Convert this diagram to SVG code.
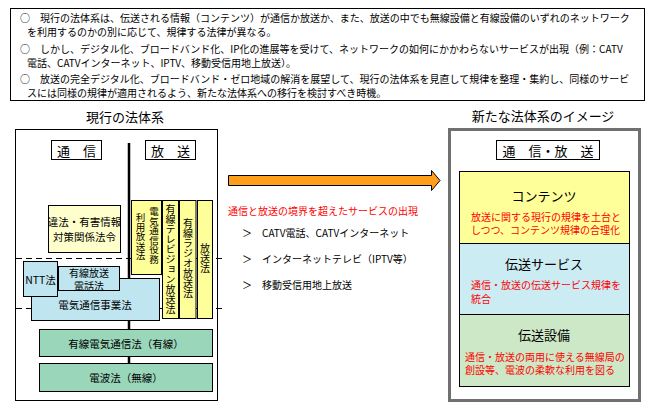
<svg xmlns="http://www.w3.org/2000/svg" width="655" height="412" viewBox="0 0 655 412">
<style>
text{font-family:"Noto Sans CJK JP","Noto Sans CJK SC",sans-serif;fill:#000;}
.b{font-size:10px;dominant-baseline:central;}
.t{font-size:13px;dominant-baseline:central;text-anchor:middle;}
.m{font-size:10.5px;dominant-baseline:central;text-anchor:middle;}
.s{font-size:10px;dominant-baseline:central;text-anchor:middle;}
.r{font-size:10px;dominant-baseline:central;fill:#f00;}
.v{font-size:10px;writing-mode:vertical-rl;text-anchor:start;}
.v2{font-size:9.5px;writing-mode:vertical-rl;text-anchor:start;}
.box{stroke:#000;stroke-width:1;}
.y{fill:#ffff99;}
.ly{fill:#ffffcc;}
.bl{fill:#bfe6f0;}
.gr{fill:#99d6ba;}
.lbl{fill:#fff;stroke:#000;stroke-width:1;}
.dash{stroke:#000;stroke-width:1;stroke-dasharray:6,4;fill:none;}
</style>
<rect x="0" y="0" width="655" height="412" fill="#fff"/>

<g id="summary">
<rect x="10.5" y="8.5" width="634" height="92" fill="#fff" stroke="#000"/>
<text class="b" x="20" y="17.5">○　現行の法体系は、伝送される情報（コンテンツ）が通信か放送か、また、放送の中でも無線設備と有線設備のいずれのネットワーク</text>
<text class="b" x="27" y="31.5">を利用するのかの別に応じて、規律する法律が異なる。</text>
<text class="b" x="20" y="48.5">○　しかし、デジタル化、ブロードバンド化、IP化の進展等を受けて、ネットワークの如何にかかわらないサービスが出現（例：CATV</text>
<text class="b" x="27" y="62.5">電話、CATVインターネット、IPTV、移動受信用地上放送）。</text>
<text class="b" x="20" y="78.5">○　放送の完全デジタル化、ブロードバンド・ゼロ地域の解消を展望して、現行の法体系を見直して規律を整理・集約し、同様のサービ</text>
<text class="b" x="27" y="92.5">スには同様の規律が適用されるよう、新たな法体系への移行を検討すべき時機。</text>
</g>

<g id="current-system">
<text class="t" x="125" y="116">現行の法体系</text>
<rect x="15.5" y="129.5" width="202" height="271" fill="#fff" stroke="#000"/>
</g>

<g id="separators">
<line class="dash" x1="16" y1="258.5" x2="222" y2="258.5"/>
<line class="dash" x1="16" y1="308.5" x2="222" y2="308.5"/>
<line x1="129" y1="143" x2="129" y2="363" stroke="#000" stroke-width="2.5"/>
</g>

<g id="label-tsushin">
<rect class="lbl" x="51.5" y="140.5" width="50" height="19"/>
<text class="t" x="76.5" y="150">通　信</text>
</g>
<g id="label-hoso">
<rect class="lbl" x="145.5" y="140.5" width="50" height="19"/>
<text class="t" x="170.5" y="150">放　送</text>
</g>

<g id="ihou-yuugai">
<rect class="box ly" x="48.5" y="205.5" width="72" height="47"/>
<text class="m" x="84.5" y="221">違法・有害情報</text>
<text class="m" x="84.5" y="236">対策関係法令</text>
</g>

<g id="denki-tsushin-ekimu">
<rect class="box y" x="131.5" y="200.5" width="30" height="74"/>
<text class="v2" x="154" y="207">電気通信役務</text>
<text class="v2" x="140.5" y="213">利用放送法</text>
</g>
<g id="yusen-tv">
<rect class="box y" x="162.5" y="200.5" width="16" height="118"/>
<text class="v" x="170.5" y="204">有線テレビジョン放送法</text>
</g>
<g id="yusen-radio">
<rect class="box y" x="179.5" y="200.5" width="16.5" height="118"/>
<text class="v" x="188" y="218">有線ラジオ放送法</text>
</g>
<g id="hosoho">
<rect class="box y" x="197.5" y="200.5" width="15" height="118"/>
<text class="v" x="205" y="243">放送法</text>
</g>

<g id="denki-jigyo">
<rect class="box bl" x="31.5" y="278.5" width="128" height="42"/>
<text class="m" x="95" y="304">電気通信事業法</text>
</g>
<g id="ntt">
<rect class="box bl" x="23.5" y="261.5" width="34" height="35"/>
<text class="m" x="40.5" y="279">NTT法</text>
</g>
<g id="yusen-hoso-denwa">
<rect class="box bl" x="58.5" y="266.5" width="61" height="24"/>
<text class="s" x="89" y="272">有線放送</text>
<text class="s" x="89" y="285">電話法</text>
</g>

<g id="yusen-denki">
<rect class="box gr" x="39.5" y="329.5" width="173" height="27"/>
<text class="m" x="126" y="343">有線電気通信法（有線）</text>
</g>
<g id="denpa">
<rect class="box gr" x="39.5" y="363.5" width="173" height="28"/>
<text class="m" x="126" y="377">電波法（無線）</text>
</g>

<g id="connectors">
<polygon points="228.5,175.5 431.5,175.5 431.5,170.5 440,180.5 431.5,190.5 431.5,185.5 228.5,185.5" fill="#ff9e1a" stroke="#000" stroke-width="1"/>
</g>

<g id="services">
<text class="r" x="228" y="210">通信と放送の境界を超えたサービスの出現</text>
<text class="b" x="242" y="232">＞</text>
<text class="b" x="262" y="232">CATV電話、CATVインターネット</text>
<text class="b" x="242" y="258">＞</text>
<text class="b" x="262" y="258">インターネットテレビ（IPTV等）</text>
<text class="b" x="242" y="284">＞</text>
<text class="b" x="262" y="284">移動受信用地上放送</text>
</g>

<g id="new-system">
<text class="t" x="543" y="115">新たな法体系のイメージ</text>
<rect x="449.5" y="129.5" width="190" height="271" fill="#fff" stroke="#707070" stroke-width="3"/>
</g>
<g id="label-tsushin-hoso">
<rect class="lbl" x="496.5" y="140.5" width="103" height="19"/>
<text class="t" x="548" y="150">通　信・放　送</text>
</g>
<g id="contents">
<rect class="box y" x="459.5" y="171.5" width="170" height="72"/>
<text class="t" x="544" y="195">コンテンツ</text>
<text class="r" x="471" y="216">放送に関する現行の規律を土台と</text>
<text class="r" x="471" y="229">しつつ、コンテンツ規律の合理化</text>
</g>
<g id="transmission-service">
<rect class="box" fill="#ccecf4" x="459.5" y="243.5" width="170" height="71"/>
<text class="t" x="544" y="263">伝送サービス</text>
<text class="r" x="471" y="284">通信・放送の伝送サービス規律を</text>
<text class="r" x="471" y="298">統合</text>
</g>
<g id="transmission-facility">
<rect class="box" fill="#cce8c6" x="459.5" y="314.5" width="170" height="72"/>
<text class="t" x="544" y="334">伝送設備</text>
<text class="r" x="465" y="356">通信・放送の両用に使える無線局の</text>
<text class="r" x="465" y="369">創設等、電波の柔軟な利用を図る</text>
</g>
</svg>
